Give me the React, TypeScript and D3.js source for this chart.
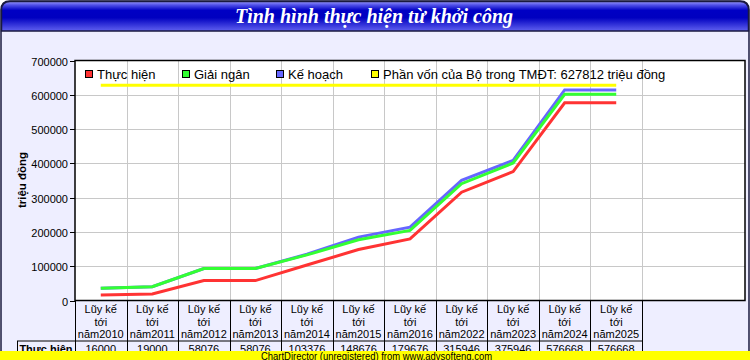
import React, { useEffect } from "react";
import * as d3 from "d3";

const categories = ["2010", "2011", "2012", "2013", "2014", "2015", "2016", "2022", "2023", "2024", "2025"];
const thucHien = [16000, 19000, 58076, 58076, 103376, 148676, 179676, 315946, 375946, 576668, 576668];
const giaiNgan = [36000, 40000, 93400, 93400, 133000, 177000, 204400, 340700, 401000, 601600, 601600];
const keHoach = [36000, 40000, 93400, 93400, 135000, 184800, 214000, 350400, 408800, 614000, 614000];
const phanVon = 627812;
const yTicks = [0, 100000, 200000, 300000, 400000, 500000, 600000, 700000];

const legendItems = [
  { label: "Thực hiện", color: "#ff3333" },
  { label: "Giải ngân", color: "#33ff33" },
  { label: "Kế hoạch", color: "#6666ff" },
  { label: "Phần vốn của Bộ trong TMĐT: 627812 triệu đồng", color: "#ffff00" },
];

const SANS = "'Liberation Sans', Arial, sans-serif";

export default function App() {
  useEffect(() => {
    document.body.style.margin = "0";
  }, []);

  const W = 750, H = 360;
  const left = 75, right = 745, top = 60.5, bottom = 300.5;
  const x = d3.scaleBand<string>().domain(categories).range([75, 642]).paddingInner(0).paddingOuter(0);
  const y = d3.scaleLinear().domain([0, 700000]).range([bottom, top]);
  const cx = (c: string) => (x(c) as number) + x.bandwidth() / 2;

  const line = d3.line<number>().x((_, i) => cx(categories[i])).y((v) => y(v));
  const bounds = categories.map((c) => x(c) as number).concat([642]);

  const legendX = [85, 182, 276, 371];

  return (
    <svg width={W} height={H} style={{ position: "absolute", left: 0, top: 0, display: "block" }}
      fontFamily={SANS}>
      <defs>
        <linearGradient id="tg" x1="0" y1="0" x2="0" y2="1">
          <stop offset="0" stopColor="#9a9aff" />
          <stop offset="0.12" stopColor="#5050e8" />
          <stop offset="0.3" stopColor="#0000c4" />
          <stop offset="0.55" stopColor="#0000c0" />
          <stop offset="1" stopColor="#6060f0" />
        </linearGradient>
      </defs>
      {/* frame body */}
      <path d={`M1,10 Q1,1 10,1 L740,1 Q749,1 749,10 L749,370 L1,370 Z`} fill="#eeeeff" stroke="#1a1a40" strokeWidth={1.5} />
      {/* title bar */}
      <path d={`M1.5,10 Q1.5,1.5 10,1.5 L740,1.5 Q748.5,1.5 748.5,10 L748.5,31 L1.5,31 Z`} fill="url(#tg)" stroke="#1a1a40" strokeWidth={1.5} />
      <text x={374} y={23} textAnchor="middle" fill="#ffffff" fontFamily="'Liberation Serif', 'Times New Roman', serif"
        fontStyle="italic" fontWeight="bold" fontSize={20}>Tình hình thực hiện từ khởi công</text>

      {/* plot area */}
      <rect x={left} y={top} width={right - left} height={bottom - top} fill="#ffffff" />
      {yTicks.slice(1, -1).map((t) => (
        <line key={t} x1={left} x2={right} y1={Math.round(y(t)) + 0.5} y2={Math.round(y(t)) + 0.5} stroke="#c8c8c8" strokeWidth={1} />
      ))}
      {bounds.slice(1).map((b, i) => (
        <line key={i} x1={Math.round(b) + 0.5} x2={Math.round(b) + 0.5} y1={top} y2={bottom} stroke="#c8c8c8" strokeWidth={1} />
      ))}
      <rect x={left} y={top} width={right - left} height={bottom - top} fill="none" stroke="#000000" strokeWidth={1.5} />

      {/* y axis ticks */}
      {yTicks.map((t) => (
        <g key={t}>
          <line x1={70} x2={left} y1={Math.round(y(t)) + 0.5} y2={Math.round(y(t)) + 0.5} stroke="#000" />
          <text x={68} y={Math.round(y(t)) + 4.5} textAnchor="end" fontSize={11} fill="#000">{t}</text>
        </g>
      ))}
      <text transform={`translate(26,180) rotate(-90)`} textAnchor="middle" fontSize={11.5} fontWeight="bold" fill="#000">triệu đồng</text>

      {/* legend */}
      {legendItems.map((it, i) => (
        <g key={i}>
          <rect x={legendX[i] + 0.5} y={70.5} width={7} height={7} fill={it.color} stroke="#000" strokeWidth={1} />
          <text x={legendX[i] + 12} y={79} fontSize={13} fill="#000">{it.label}</text>
        </g>
      ))}

      {/* yellow reference line */}
      <line x1={cx(categories[0])} x2={cx(categories[categories.length - 1])} y1={y(phanVon)} y2={y(phanVon)} stroke="#ffff00" strokeWidth={3} />

      {/* series */}
      <path d={line(keHoach) as string} fill="none" stroke="#6666ff" strokeWidth={3} />
      <path d={line(giaiNgan) as string} fill="none" stroke="#33ff33" strokeWidth={3} />
      <path d={line(thucHien) as string} fill="none" stroke="#ff3333" strokeWidth={3} />

      {/* data table */}
      {bounds.map((b, i) => (
        <line key={"v" + i} x1={Math.round(b) + 0.5} x2={Math.round(b) + 0.5} y1={bottom} y2={365} stroke="#000" strokeWidth={1} />
      ))}
      <line x1={17} x2={642.5} y1={341} y2={341} stroke="#000" strokeWidth={1} />
      <line x1={17.5} x2={17.5} y1={341} y2={365} stroke="#000" strokeWidth={1} />
      {categories.map((c) => (
        <g key={c}>
          <text x={cx(c)} y={313} textAnchor="middle" fontSize={11} fill="#000">Lũy kế</text>
          <text x={cx(c)} y={325.5} textAnchor="middle" fontSize={11} fill="#000">tới</text>
          <text x={cx(c)} y={338} textAnchor="middle" fontSize={11} fill="#000">năm{c}</text>
        </g>
      ))}
      <text x={46} y={353} textAnchor="middle" fontSize={11} fontWeight="bold" fill="#000">Thực hiện</text>
      {categories.map((c, i) => (
        <text key={"d" + c} x={cx(c)} y={353} textAnchor="middle" fontSize={11} fill="#000">{thucHien[i]}</text>
      ))}

      {/* unregistered banner */}
      <rect x={0} y={351} width={W} height={9} fill="#ffff00" />
      <text x={261} y={359.5} fontSize={11} textLength={231} lengthAdjust="spacingAndGlyphs"
        fontFamily="'Liberation Sans Narrow', 'Liberation Sans', Arial, sans-serif" fill="#000">ChartDirector (unregistered) from www.advsofteng.com</text>
    </svg>
  );
}
